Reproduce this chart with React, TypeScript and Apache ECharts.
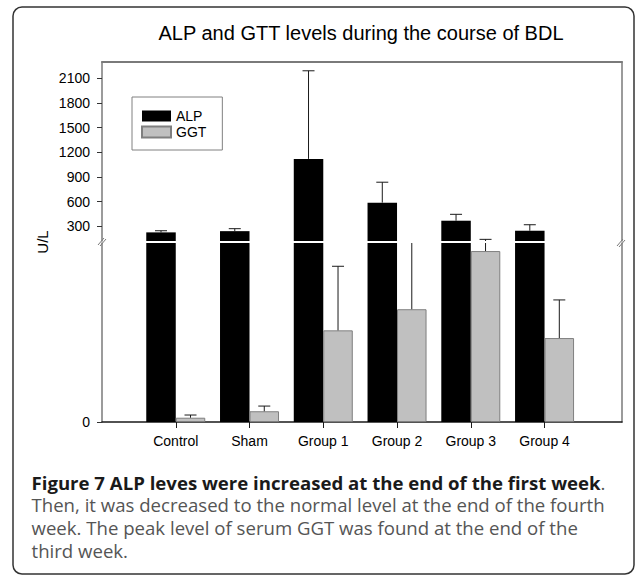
import React, { useEffect, useRef } from "react";
import * as echarts from "echarts";

// ---- data ----
const categories = ["Control", "Sham", "Group 1", "Group 2", "Group 3", "Group 4"];
const positions = [1, 2, 3, 4, 5, 6];
const alpMean = [225, 240, 1120, 587, 367, 245];
const alpErrTop = [245, 270, 2193, 836, 445, 318];
const ggtMean = [2.4, 6.0, 51.2, 63.0, 95.5, 46.9];
const ggtErrTop = [3.9, 8.9, 87.0, 110, 140, 68.2];
const upperTicks = [300, 600, 900, 1200, 1500, 1800, 2100];
const lowerTicks = [0];

const captionBold = "Figure 7 ALP leves were increased at the end of the first week";
const captionLines = [
  "Then, it was decreased to the normal level at the end of the fourth",
  "week. The peak level of serum GGT was found at the end of the",
  "third week.",
];

const LOWER_MIN = 0;
const LOWER_MAX = 100;
const UPPER_MIN = 120;
const UPPER_MAX = 2300;
const X_MIN = 0;
const X_MAX = 7.05;

const BAR_W = 29.5;
const FONT = "'Liberation Sans', Arial, sans-serif";
const CAP_FONT = "'Open Sans', 'Noto Sans', sans-serif";
const CAP_SIZE = 18.6;
const CAP_LH = 22.7;

function errorRenderer(offsetPx: number, lo: number, hi: number) {
  return (params: any, api: any) => {
    const x = api.value(0);
    const mean = api.value(1);
    const top = api.value(2);
    if (top <= lo) return null;
    const startVal = Math.max(mean, lo);
    if (startVal >= hi) return null;
    const endVal = Math.min(top, hi);
    const p0 = api.coord([x, startVal]);
    const p1 = api.coord([x, endVal]);
    const cx = p0[0] + offsetPx;
    const style = { stroke: "#1a1a1a", lineWidth: 1 };
    const children: any[] = [
      { type: "line", shape: { x1: cx, y1: p0[1], x2: cx, y2: p1[1] }, style },
    ];
    if (top <= hi) {
      children.push({
        type: "line",
        shape: { x1: cx - 6, y1: p1[1], x2: cx + 6, y2: p1[1] },
        style,
      });
    }
    return { type: "group", children };
  };
}

export default function App() {
  const ref = useRef<HTMLDivElement>(null);

  useEffect(() => {
    if (!ref.current) return;
    const chart = echarts.init(ref.current, null, { renderer: "svg" });

    const alpData = positions.map((p, i) => [p, alpMean[i]]);
    const ggtData = positions.map((p, i) => [p, ggtMean[i]]);
    const alpErr = positions.map((p, i) => [p, alpMean[i], alpErrTop[i]]);
    const ggtErr = positions.map((p, i) => [p, ggtMean[i], ggtErrTop[i]]);

    const frameLine = { show: true, onZero: false, lineStyle: { color: "#7a7a7a", width: 1.5 } };
    const tickLabel = {
      show: true,
      fontFamily: FONT,
      fontSize: 14,
      color: "#000",
      margin: 12,
      formatter: (v: number) => String(v),
    };

    const barCommon = (name: string, data: any[], xi: number, yi: number) => ({
      type: "bar",
      name,
      xAxisIndex: xi,
      yAxisIndex: yi,
      data,
      barWidth: BAR_W,
      barGap: "0%",
      clip: true,
      itemStyle:
        name === "ALP"
          ? { color: "#000000" }
          : { color: "#c0c0c0", borderColor: "#7f7f7f", borderWidth: 1 },
    });

    const capStyle = { font: `${CAP_SIZE}px ${CAP_FONT}`, fill: "#555", textVerticalAlign: "middle" };
    const captionGraphics: any[] = [
      {
        type: "text",
        x: 31.5,
        y: 482,
        style: {
          text: `{b|${captionBold}}{n|.}`,
          textVerticalAlign: "middle",
          rich: {
            b: { font: `bold ${CAP_SIZE}px ${CAP_FONT}`, fill: "#1a1a1a" },
            n: { font: `${CAP_SIZE}px ${CAP_FONT}`, fill: "#555" },
          },
        },
      },
      ...captionLines.map((line, i) => ({
        type: "text",
        x: 31.5,
        y: 482 + CAP_LH * (i + 1),
        style: { ...capStyle, text: line },
      })),
    ];

    chart.setOption({
      animation: false,
      backgroundColor: "#ffffff",
      grid: [
        { left: 102, right: 13, top: 62, height: 179, outerBoundsMode: "none" },
        { left: 102, right: 13, top: 243, height: 179, outerBoundsMode: "none" },
      ],
      xAxis: [
        {
          gridIndex: 0,
          type: "value",
          min: X_MIN,
          max: X_MAX,
          position: "top",
          axisLine: { show: true, onZero: false, lineStyle: { color: "#7a7a7a", width: 2 } },
          axisTick: { show: false },
          axisLabel: { show: false },
          splitLine: { show: false },
        },
        {
          gridIndex: 1,
          type: "value",
          min: X_MIN,
          max: X_MAX,
          position: "bottom",
          axisLine: { show: true, onZero: false, lineStyle: { color: "#1a1a1a", width: 1.5 } },
          axisTick: { show: true, customValues: positions, length: 6, lineStyle: { color: "#1a1a1a" } },
          axisLabel: {
            show: true,
            customValues: positions,
            formatter: (v: number) => categories[Math.round(v) - 1] ?? "",
            fontFamily: FONT,
            fontSize: 14,
            color: "#000",
            margin: 12,
          },
          splitLine: { show: false },
        },
      ],
      yAxis: [
        {
          gridIndex: 0,
          type: "value",
          min: UPPER_MIN,
          max: UPPER_MAX,
          position: "left",
          axisLine: frameLine,
          axisTick: { show: true, customValues: upperTicks, length: 5, lineStyle: { color: "#333" } },
          axisLabel: { ...tickLabel, customValues: upperTicks },
          splitLine: { show: false },
        },
        {
          gridIndex: 0,
          type: "value",
          min: UPPER_MIN,
          max: UPPER_MAX,
          position: "right",
          axisLine: frameLine,
          axisTick: { show: false },
          axisLabel: { show: false },
          splitLine: { show: false },
        },
        {
          gridIndex: 1,
          type: "value",
          min: LOWER_MIN,
          max: LOWER_MAX,
          position: "left",
          axisLine: frameLine,
          axisTick: { show: true, customValues: lowerTicks, length: 5, lineStyle: { color: "#333" } },
          axisLabel: { ...tickLabel, customValues: lowerTicks },
          splitLine: { show: false },
        },
        {
          gridIndex: 1,
          type: "value",
          min: LOWER_MIN,
          max: LOWER_MAX,
          position: "right",
          axisLine: frameLine,
          axisTick: { show: false },
          axisLabel: { show: false },
          splitLine: { show: false },
        },
      ],
      legend: {
        data: ["ALP", "GGT"],
        orient: "vertical",
        left: 132,
        top: 97,
        padding: [12, 16, 11, 9],
        itemWidth: 29,
        itemHeight: 11,
        itemGap: 2,
        borderColor: "#808080",
        borderWidth: 1,
        icon: "rect",
        selectedMode: false,
        textStyle: { fontFamily: FONT, fontSize: 14, color: "#000", lineHeight: 14 },
      },
      series: [
        barCommon("ALP", alpData, 0, 0),
        barCommon("GGT", ggtData, 0, 0),
        barCommon("ALP", alpData, 1, 2),
        barCommon("GGT", ggtData, 1, 2),
        {
          type: "custom",
          name: "ALP error upper",
          xAxisIndex: 0,
          yAxisIndex: 0,
          data: alpErr,
          renderItem: errorRenderer(-BAR_W / 2, UPPER_MIN, UPPER_MAX),
          z: 3,
        },
        {
          type: "custom",
          name: "GGT error upper",
          xAxisIndex: 0,
          yAxisIndex: 0,
          data: ggtErr,
          renderItem: errorRenderer(BAR_W / 2, UPPER_MIN, UPPER_MAX),
          z: 3,
        },
        {
          type: "custom",
          name: "ALP error lower",
          xAxisIndex: 1,
          yAxisIndex: 2,
          data: alpErr,
          renderItem: errorRenderer(-BAR_W / 2, LOWER_MIN, LOWER_MAX),
          z: 3,
        },
        {
          type: "custom",
          name: "GGT error lower",
          xAxisIndex: 1,
          yAxisIndex: 2,
          data: ggtErr,
          renderItem: errorRenderer(BAR_W / 2, LOWER_MIN, LOWER_MAX),
          z: 3,
        },
      ],
      graphic: [
        {
          type: "rect",
          shape: { x: 13, y: 7, width: 621, height: 567, r: 9 },
          style: { fill: "none", stroke: "#333", lineWidth: 1.5 },
          z: 0,
        },
        {
          type: "text",
          x: 361,
          y: 33,
          style: {
            text: "ALP and GTT levels during the course of BDL",
            font: `20px ${FONT}`,
            fill: "#000",
            textAlign: "center",
            textVerticalAlign: "middle",
          },
        },
        {
          type: "text",
          x: 42,
          y: 242,
          rotation: Math.PI / 2,
          style: {
            text: "U/L",
            font: `15px ${FONT}`,
            fill: "#000",
            textAlign: "center",
            textVerticalAlign: "middle",
          },
        },
        // axis break marks
        { type: "line", shape: { x1: 98, y1: 245, x2: 104, y2: 238 }, style: { stroke: "#7a7a7a", lineWidth: 1 }, z: 10 },
        { type: "line", shape: { x1: 100, y1: 246, x2: 106, y2: 239 }, style: { stroke: "#7a7a7a", lineWidth: 1 }, z: 10 },
        { type: "line", shape: { x1: 617, y1: 246, x2: 623, y2: 239 }, style: { stroke: "#7a7a7a", lineWidth: 1 }, z: 10 },
        { type: "line", shape: { x1: 619, y1: 247, x2: 625, y2: 240 }, style: { stroke: "#7a7a7a", lineWidth: 1 }, z: 10 },
        ...captionGraphics,
      ],
    });

    return () => chart.dispose();
  }, []);

  return (
    <div
      ref={ref}
      style={{ position: "absolute", left: 0, top: 0, width: 635, height: 576, background: "#fff" }}
    />
  );
}
